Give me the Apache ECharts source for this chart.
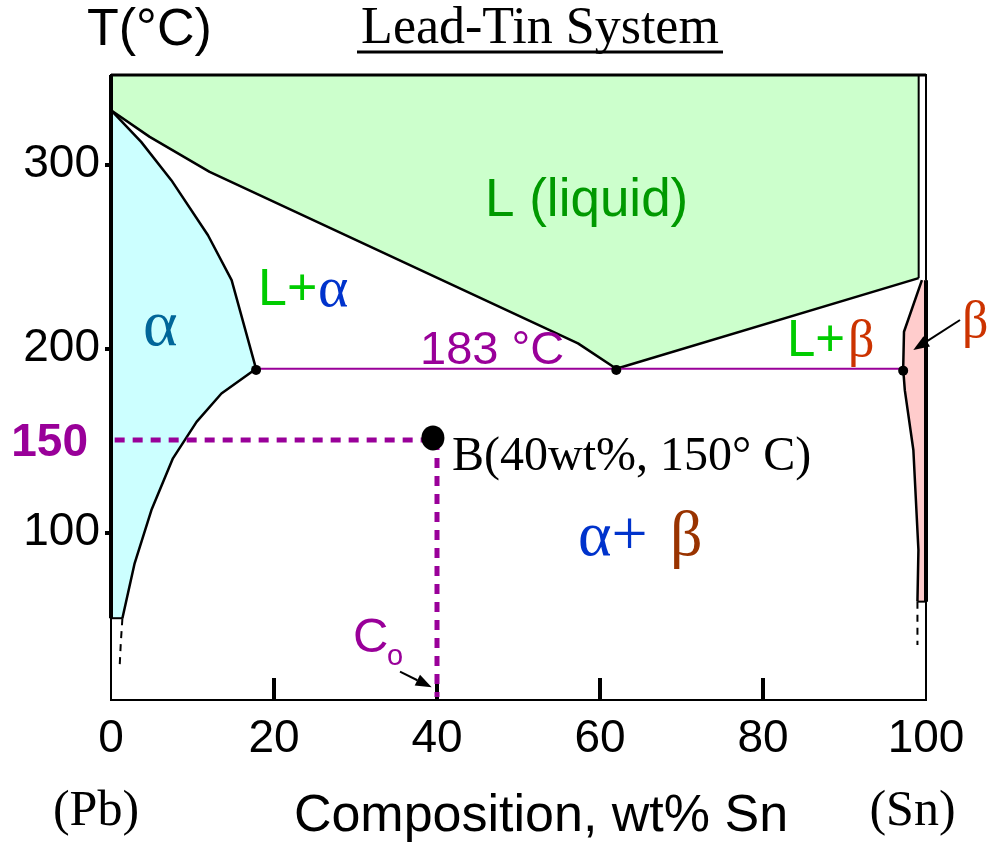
<!DOCTYPE html>
<html><head><meta charset="utf-8">
<script src="https://cdn.jsdelivr.net/npm/echarts@6/dist/echarts.min.js"></script>
<style>html,body{margin:0;padding:0;background:#fff}#c{width:988px;height:845px}</style>
</head><body><div id="c"></div>
<script>
// ---- axis data ----
const xTickLabels = [0, 20, 40, 60, 80, 100];
const xTickMarks = [20, 40, 60, 80];
const yTickMarks = [100, 200, 300];
const yTickLabels = [100, 150, 200, 300];
const T_MIN = 9.2, T_MAX = 348.5;

// ---- phase boundaries [wt% Sn, T] ----
const liquidusLeft = [[0, 329.4], [4.75, 314.9], [12.1, 295.9], [57.3, 202.8], [62.0, 189.0]];
const liquidusRight = [[62.0, 189.0], [99.1, 238.2]];
const solidusAlpha = [[0, 329.4], [3.7, 312.2], [7.4, 291.4], [11.9, 261.5], [14.8, 237.1], [17.8, 189.0]];
const solvusAlpha = [[17.8, 189.0], [13.55, 175.6], [10.5, 160.2], [7.6, 140.4], [4.96, 112.3], [2.9, 83.4], [1.4, 53.6]];
const solvusAlphaLow = [[1.4, 53.6], [1.2, 40.0], [1.05, 26.4]];
const betaBoundary = [[99.5, 237.1], [97.3, 209.1], [97.2, 189.0], [97.4, 177.4], [98.45, 144.9], [99.07, 90.6], [98.95, 62.6]];
const betaLow = [[98.95, 62.6], [98.95, 39.0]];
const eutecticLine = [[17.8, 189.0], [97.2, 189.0]];
const eutecticPoints = [[17.8, 188.4], [62.0, 188.4], [97.2, 188.0]];
const pointB = [[39.5, 151.5]];
const alloyHoriz = [[0.45, 150.3], [39.5, 150.3]];
const alloyVert = [[40, 150.3], [40, 10.8]];

// ---- regions built from the boundaries ----
const liquidRegion = [[0, T_MAX], [99.1, T_MAX]]
  .concat(liquidusRight.slice().reverse())
  .concat(liquidusLeft.slice().reverse().slice(1));
const alphaRegion = solidusAlpha.concat(solvusAlpha.slice(1)).concat([[0, 53.6]]);
const betaRegion = betaBoundary.concat([[100, 62.6], [100, 237.1]]);

const SANS = 'Liberation Sans', SERIF = 'Liberation Serif';
const PURPLE = '#990099';

function region(points, fill) {
  return {
    type: 'custom', coordinateSystem: 'cartesian2d', silent: true, clip: false, z: 1,
    data: points,
    renderItem: function (params, api) {
      if (params.dataIndex !== 0) return null;
      return { type: 'polygon', shape: { points: points.map(p => api.coord(p)) },
        style: { fill: fill, stroke: 'none' } };
    }
  };
}
function line(points, color, width, dash) {
  return {
    type: 'line', data: points, symbol: 'none', silent: true, clip: false, z: 3,
    lineStyle: { color: color, width: width, type: dash || 'solid', cap: 'butt' }
  };
}
function txt(x, y, s, size, family, color, weight) {
  return { type: 'text', x: x, y: y, z: 100,
    style: { text: s, fontSize: size, fontFamily: family, fill: color,
      fontWeight: weight || 'normal', align: 'left', verticalAlign: 'middle' } };
}
function ctxt(x, y, s, size, family, color) {
  const t = txt(x, y, s, size, family, color); t.style.align = 'center'; return t;
}
function arrow(x1, y1, x2, y2, len, wid) {
  const dx = x2 - x1, dy = y2 - y1, L = Math.hypot(dx, dy), ux = dx / L, uy = dy / L;
  const bx = x2 - ux * len, by = y2 - uy * len, px = -uy * wid / 2, py = ux * wid / 2;
  return [
    { type: 'line', z: 100, shape: { x1: x1, y1: y1, x2: bx, y2: by }, style: { stroke: '#000', lineWidth: 2 } },
    { type: 'polygon', z: 100, shape: { points: [[x2, y2], [bx + px, by + py], [bx - px, by - py]] }, style: { fill: '#000' } }
  ];
}

const chart = echarts.init(document.getElementById('c'));
chart.setOption({
  animation: false,
  backgroundColor: '#fff',
  grid: { left: 111, right: 62, top: 75, bottom: 145, show: true, borderColor: '#000', borderWidth: 2,
    backgroundColor: 'transparent', outerBoundsMode: 'none' },
  xAxis: {
    type: 'value', min: 0, max: 100, interval: 20,
    axisLine: { show: false }, splitLine: { show: false },
    axisTick: { show: true, inside: true, length: 22, customValues: xTickMarks, lineStyle: { color: '#000', width: 4 } },
    axisLabel: { customValues: xTickLabels, margin: 16, fontSize: 46, fontFamily: SANS,
      color: function (v) { return v === 40 ? PURPLE : '#000'; } }
  },
  yAxis: [{
    type: 'value', min: T_MIN, max: T_MAX,
    axisLine: { show: false }, splitLine: { show: false },
    axisTick: { show: true, inside: true, length: 14, customValues: yTickMarks, lineStyle: { color: '#000', width: 4 } },
    axisLabel: { customValues: yTickLabels, margin: 11, fontSize: 46, fontFamily: SANS, color: '#000',
      formatter: function (v) { return v === 150 ? '{b|150}' : String(v); },
      rich: { b: { fontSize: 46, fontFamily: SANS, fontWeight: 'bold', color: PURPLE, padding: [6, 12, 0, 0] } } }
  }, {
    type: 'value', min: T_MIN, max: T_MAX, position: 'left',
    axisLine: { show: false }, splitLine: { show: false }, axisLabel: { show: false },
    axisTick: { show: true, inside: false, length: 6, customValues: yTickMarks, lineStyle: { color: '#000', width: 4 } }
  }],
  series: [
    region(liquidRegion, '#ccffcc'),
    region(alphaRegion, '#ccffff'),
    region(betaRegion, '#ffcccc'),
    line(liquidusLeft, '#000', 2.5),
    line(liquidusRight, '#000', 2.5),
    line([[99.1, 238.2], [99.1, T_MAX]], '#000', 2),
    line([[0, T_MAX], [100, T_MAX]], '#000', 3),
    line(solidusAlpha, '#000', 2.5),
    line(solvusAlpha, '#000', 2.5),
    line([[0, 53.6], [1.4, 53.6]], '#000', 2),
    line([[0, 53.6], [0, T_MAX]], '#000', 4),
    line(solvusAlphaLow, '#000', 2, [7, 6]),
    line(betaBoundary, '#000', 2.5),
    line([[98.95, 62.6], [100, 62.6]], '#000', 2),
    line([[100, 62.6], [100, 237.1]], '#000', 4),
    line(betaLow, '#000', 2, [7, 6]),
    line(eutecticLine, PURPLE, 2),
    line(alloyHoriz, PURPLE, 5, [10, 8]),
    line(alloyVert, PURPLE, 5, [10, 8]),
    { type: 'scatter', data: eutecticPoints, symbol: 'circle', symbolSize: 10, silent: true, clip: false, z: 5,
      itemStyle: { color: '#000', opacity: 1 } },
    { type: 'scatter', data: pointB, symbol: 'circle', symbolSize: [23, 25], silent: true, clip: false, z: 5,
      itemStyle: { color: '#000', opacity: 1 } }
  ],
  graphic: [
    ctxt(540, 29, 'Lead-Tin System', 52, SERIF, '#000'),
    { type: 'line', z: 100, shape: { x1: 357, y1: 52, x2: 723, y2: 52 }, style: { stroke: '#000', lineWidth: 3 } },
    txt(87, 30.3, 'T(°C)', 52, SANS, '#000'),
    txt(485, 201.6, 'L (liquid)', 53, SANS, '#009900'),
    txt(258, 291, 'L+', 52, SANS, '#00cc00'),
    txt(318, 290.4, 'α', 58, SERIF, '#0033cc'),
    txt(143, 327.7, 'α', 66, SERIF, '#006699'),
    txt(420, 350.7, '183 °C', 47, SANS, PURPLE),
    txt(787, 342.3, 'L+', 51, SANS, '#00cc00'),
    txt(848, 342.5, 'β', 52, SERIF, '#cc3300'),
    txt(962, 323, 'β', 52, SERIF, '#cc3300'),
    txt(452, 457.1, 'B(40wt%, 150° C)', 48, SERIF, '#000'),
    txt(578, 538.4, 'α+', 64, SERIF, '#0033cc'),
    txt(670, 538.4, 'β', 64, SERIF, '#993300'),
    txt(353, 638, 'C', 49, SANS, PURPLE),
    txt(387, 656.7, 'o', 29, SANS, PURPLE),
    ctxt(541, 817, 'Composition, wt% Sn', 52, SANS, '#000'),
    ctxt(96, 811.4, '(Pb)', 50, SERIF, '#000'),
    ctxt(912.5, 811.4, '(Sn)', 50, SERIF, '#000')
  ].concat(arrow(400, 671.7, 431.7, 687.3, 16, 12)).concat(arrow(960, 320, 913.3, 350, 16, 12))
});
</script>
</body></html>
